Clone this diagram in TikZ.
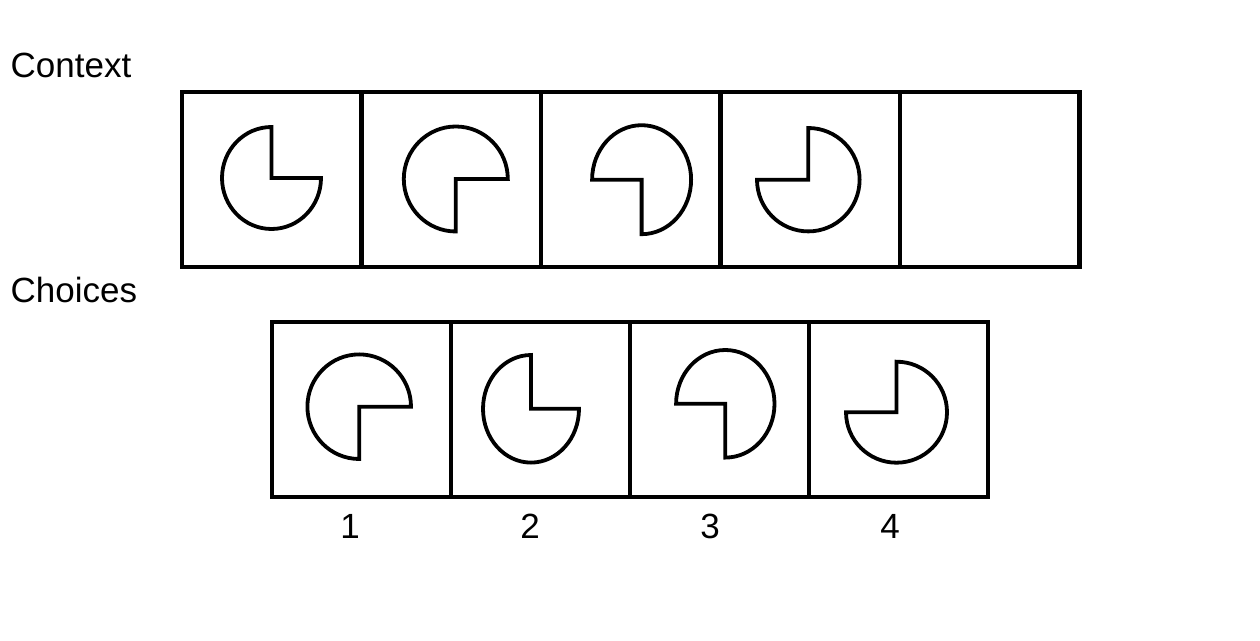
\documentclass[tikz,border=0pt]{standalone}
\usepackage{fontspec}
\setmainfont{Liberation Sans}
\begin{document}
\begin{tikzpicture}[x=1pt,y=1pt,
  cellbox/.style={draw=black, line width=4.5pt, minimum height=175pt, inner sep=0pt, outer sep=0pt},
  ctxcell/.style={cellbox, minimum width=179.5pt},
  chcell/.style={cellbox, minimum width=179pt},
  pacman/.style={draw=black, line width=3.8pt, line join=miter},
  lbl/.style={inner sep=0pt, anchor=base west, font=\fontsize{35}{42}\selectfont},
  numlbl/.style={inner sep=0pt, anchor=base, font=\fontsize{35}{42}\selectfont}]
\useasboundingbox (0,0) rectangle (1260,640);
\fill[white] (0,0) rectangle (1260,640);
% labels
\node[lbl] (lctx) at (10.5,562.7) {Context};
\node[lbl] (lch) at (10.5,337.7) {Choices};
% context cells
\foreach \i in {0,...,4} {
  \node[ctxcell] (ctx\i) at (271.5+179.5*\i,460.5) {};
}
% choice cells
\foreach \i in {0,...,3} {
  \node[chcell] (ch\i) at (361.5+179*\i,230.5) {};
}
% numbers
\node[numlbl] (n1) at (350,102) {1};
\node[numlbl] (n2) at (530,102) {2};
\node[numlbl] (n3) at (710,102) {3};
\node[numlbl] (n4) at (890,102) {4};
% pac-man shapes: cx, cy, rx, ry, start angle
\newcommand{\pacshape}[5]{%
  \draw[pacman] (#1,#2) -- ++(#5:#3pt and #4pt) arc[start angle=#5, end angle=#5+270, x radius=#3pt, y radius=#4pt] -- cycle;}
% context
\pacshape{271.5}{462}{49.5}{51}{90}
\pacshape{455.8}{461}{52}{52.5}{0}
\pacshape{641.6}{460.3}{49.5}{54.5}{-90}
\pacshape{808.3}{460.3}{51.3}{51.7}{180}
% choices
\pacshape{359.2}{233.3}{51.8}{52.3}{0}
\pacshape{531}{231.2}{48}{53.8}{90}
\pacshape{725.3}{236.2}{49.2}{53.8}{-90}
\pacshape{896.5}{227.8}{50.5}{50.5}{180}
\end{tikzpicture}
\end{document}
